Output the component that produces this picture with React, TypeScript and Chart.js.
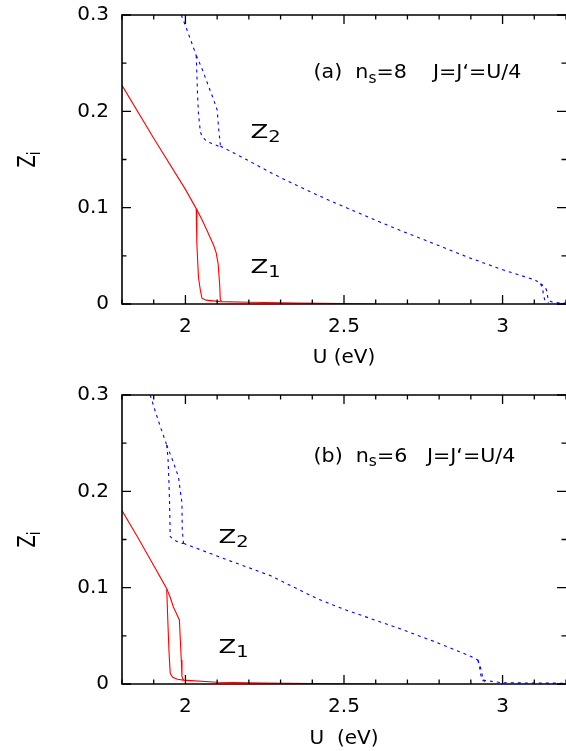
import React, { useEffect, useRef } from "react";
import { Chart, registerables } from "chart.js";

Chart.register(...registerables);

const FONT = "'DejaVu Sans', 'Liberation Sans', sans-serif";

// ---- axis ticks ----
const uTickLabels = [2, 2.5, 3];
const zTickLabels = [0, 0.1, 0.2, 0.3];

// ---- panel (a): n_s = 8 ----
const aZ1MainU = [1.8, 1.9, 2.0, 2.034];
const aZ1MainZ = [0.227, 0.172, 0.119, 0.099];
const aZ1LeftU = [2.034, 2.036, 2.041, 2.047, 2.052, 2.065, 2.11, 2.2, 2.35, 2.5, 2.6];
const aZ1LeftZ = [0.099, 0.063, 0.028, 0.0145, 0.006, 0.004, 0.0025, 0.0018, 0.001, 0.0005, 0];
const aZ1RightU = [2.034, 2.05, 2.063, 2.078, 2.089, 2.097, 2.103, 2.108, 2.11, 2.115];
const aZ1RightZ = [0.099, 0.089, 0.08, 0.069, 0.061, 0.053, 0.042, 0.02, 0.004, 0.003];

const aZ2TopU = [1.987, 2.005, 2.02, 2.034];
const aZ2TopZ = [0.3, 0.2845, 0.271, 0.258];
const aZ2LeftU = [2.034, 2.036, 2.038, 2.041, 2.047, 2.052, 2.068, 2.09, 2.11];
const aZ2LeftZ = [0.258, 0.24, 0.219, 0.198, 0.179, 0.174, 0.1685, 0.166, 0.163];
const aZ2RightU = [2.034, 2.041, 2.055, 2.073, 2.088, 2.1, 2.105, 2.108, 2.11];
const aZ2RightZ = [0.258, 0.253, 0.242, 0.226, 0.213, 0.2015, 0.181, 0.172, 0.165];
const aZ2CommonU = [2.11, 2.195, 2.268, 2.342, 2.427, 2.464, 2.511, 2.585, 2.68, 2.785, 2.891, 2.996, 3.102, 3.12];
const aZ2CommonZ = [0.164, 0.1495, 0.1365, 0.1245, 0.1115, 0.106, 0.0994, 0.089, 0.076, 0.0625, 0.0485, 0.036, 0.025, 0.021];
const aZ2DropAU = [3.12, 3.126, 3.13, 3.134, 3.145];
const aZ2DropAZ = [0.021, 0.016, 0.008, 0.003, 0.0015];
const aZ2DropBU = [3.12, 3.135, 3.139, 3.144, 3.16, 3.2];
const aZ2DropBZ = [0.021, 0.0175, 0.0138, 0.004, 0.0015, 0.001];

// ---- panel (b): n_s = 6 ----
const bZ1MainU = [1.8, 1.85, 1.9, 1.941];
const bZ1MainZ = [0.18, 0.152, 0.123, 0.099];
const bZ1LeftU = [1.941, 1.944, 1.948, 1.952, 1.96, 1.975, 1.994, 2.1, 2.25, 2.4, 2.6];
const bZ1LeftZ = [0.099, 0.07, 0.035, 0.011, 0.007, 0.005, 0.004, 0.0018, 0.001, 0.0005, 0];
const bZ1RightU = [1.941, 1.952, 1.962, 1.972, 1.981, 1.984, 1.987, 1.989, 1.994];
const bZ1RightZ = [0.099, 0.09, 0.08, 0.073, 0.0665, 0.045, 0.025, 0.0076, 0.004];

const bZ2TopU = [1.889, 1.905, 1.922, 1.941];
const bZ2TopZ = [0.3, 0.283, 0.266, 0.248];
const bZ2LeftU = [1.941, 1.945, 1.948, 1.95, 1.952, 1.962, 1.973, 1.989, 1.994];
const bZ2LeftZ = [0.248, 0.235, 0.21, 0.188, 0.153, 0.15, 0.148, 0.146, 0.146];
const bZ2RightU = [1.941, 1.96, 1.978, 1.984, 1.989, 1.99, 1.994];
const bZ2RightZ = [0.248, 0.232, 0.215, 0.2, 0.188, 0.16, 0.146];
const bZ2CommonU = [1.994, 2.11, 2.268, 2.416, 2.5, 2.68, 2.785, 2.891, 2.922];
const bZ2CommonZ = [0.146, 0.1315, 0.1125, 0.0885, 0.0775, 0.057, 0.044, 0.03, 0.025];
const bZ2DropAU = [2.922, 2.927, 2.931, 2.936, 2.95];
const bZ2DropAZ = [0.025, 0.019, 0.01, 0.004, 0.002];
const bZ2DropBU = [2.922, 2.933, 2.936, 2.938, 2.996, 3.1, 3.2];
const bZ2DropBZ = [0.025, 0.0145, 0.009, 0.004, 0.0014, 0.001, 0.0008];

// ---- texts ----
const xTitles = ["U (eV)", "U  (eV)"];
const panelTagsA: [string, boolean][] = [["(a)  n", false], ["s", true], ["=8    J=J\u2018=U/4", false]];
const panelTagsB: [string, boolean][] = [["(b)  n", false], ["s", true], ["=6   J=J\u2018=U/4", false]];
const yTitleParts: [string, boolean][] = [["Z", false], ["i", true]];
const z1Parts: [string, boolean][] = [["Z", false], ["1", true]];
const z2Parts: [string, boolean][] = [["Z", false], ["2", true]];

type Parts = [string, boolean][];

function pts(u: number[], z: number[]) {
  return u.map((x, i) => ({ x, y: z[i] }));
}

function drawRich(ctx: CanvasRenderingContext2D, parts: Parts, size: number, startX: number, baseY: number) {
  let cx = startX;
  for (const [t, sub] of parts) {
    const s = sub ? size * 0.75 : size;
    ctx.font = `${s}px ${FONT}`;
    ctx.fillText(t, cx, sub ? baseY + size * 0.22 : baseY);
    cx += ctx.measureText(t).width;
  }
}

function measureRich(ctx: CanvasRenderingContext2D, parts: Parts, size: number) {
  let w = 0;
  for (const [t, sub] of parts) {
    ctx.font = `${sub ? size * 0.75 : size}px ${FONT}`;
    w += ctx.measureText(t).width;
  }
  return w;
}

interface Label {
  parts: Parts;
  u: number;
  z: number;
  size: number;
  sx: number;
}

interface PanelDef {
  height: number;
  top: number;
  padTop: number;
  axisHeight: number;
  titlePad: number;
  title: string;
  series: { u: number[]; z: number[]; color: string; dashed: boolean }[];
  labels: Label[];
}

const panels: PanelDef[] = [
  {
    height: 376,
    top: 0,
    padTop: 15,
    axisHeight: 72,
    titlePad: 6,
    title: xTitles[0],
    series: [
      { u: aZ2TopU, z: aZ2TopZ, color: "#0000ff", dashed: true },
      { u: aZ2LeftU, z: aZ2LeftZ, color: "#0000ff", dashed: true },
      { u: aZ2RightU, z: aZ2RightZ, color: "#0000ff", dashed: true },
      { u: aZ2CommonU, z: aZ2CommonZ, color: "#0000ff", dashed: true },
      { u: aZ2DropAU, z: aZ2DropAZ, color: "#0000ff", dashed: true },
      { u: aZ2DropBU, z: aZ2DropBZ, color: "#0000ff", dashed: true },
      { u: aZ1MainU, z: aZ1MainZ, color: "#ff0000", dashed: false },
      { u: aZ1LeftU, z: aZ1LeftZ, color: "#ff0000", dashed: false },
      { u: aZ1RightU, z: aZ1RightZ, color: "#ff0000", dashed: false },
    ],
    labels: [
      { parts: panelTagsA, u: 2.404, z: 0.242, size: 20, sx: 1.03 },
      { parts: z2Parts, u: 2.205, z: 0.18, size: 20, sx: 1.3 },
      { parts: z1Parts, u: 2.205, z: 0.04, size: 20, sx: 1.3 },
    ],
  },
  {
    height: 375,
    top: 376,
    padTop: 19,
    axisHeight: 67,
    titlePad: 0,
    title: xTitles[1],
    series: [
      { u: bZ2TopU, z: bZ2TopZ, color: "#0000ff", dashed: true },
      { u: bZ2LeftU, z: bZ2LeftZ, color: "#0000ff", dashed: true },
      { u: bZ2RightU, z: bZ2RightZ, color: "#0000ff", dashed: true },
      { u: bZ2CommonU, z: bZ2CommonZ, color: "#0000ff", dashed: true },
      { u: bZ2DropAU, z: bZ2DropAZ, color: "#0000ff", dashed: true },
      { u: bZ2DropBU, z: bZ2DropBZ, color: "#0000ff", dashed: true },
      { u: bZ1MainU, z: bZ1MainZ, color: "#ff0000", dashed: false },
      { u: bZ1LeftU, z: bZ1LeftZ, color: "#ff0000", dashed: false },
      { u: bZ1RightU, z: bZ1RightZ, color: "#ff0000", dashed: false },
    ],
    labels: [
      { parts: panelTagsB, u: 2.404, z: 0.238, size: 20, sx: 1.03 },
      { parts: z2Parts, u: 2.104, z: 0.154, size: 20, sx: 1.3 },
      { parts: z1Parts, u: 2.104, z: 0.04, size: 20, sx: 1.3 },
    ],
  },
];

const near = (v: number, list: number[]) => list.some((t) => Math.abs(t - v) < 1e-6);

function makeChart(canvas: HTMLCanvasElement, p: PanelDef) {
  const overlay = {
    id: "overlay",
    afterDatasetsDraw(chart: any) {
      const ctx: CanvasRenderingContext2D = chart.ctx;
      const ca = chart.chartArea;
      const xs = chart.scales.x;
      const ys = chart.scales.y;
      ctx.save();
      ctx.strokeStyle = "#000";
      ctx.lineWidth = 1.6;
      ctx.beginPath();
      ctx.moveTo(ca.right, ca.top);
      ctx.lineTo(ca.left, ca.top);
      ctx.lineTo(ca.left, ca.bottom);
      ctx.lineTo(ca.right, ca.bottom);
      ctx.stroke();
      ctx.lineWidth = 1.3;
      ctx.beginPath();
      for (const t of xs.ticks) {
        const px = xs.getPixelForValue(t.value);
        const len = near(t.value, uTickLabels) ? 9 : 4.5;
        ctx.moveTo(px, ca.bottom);
        ctx.lineTo(px, ca.bottom - len);
        ctx.moveTo(px, ca.top);
        ctx.lineTo(px, ca.top + len);
      }
      for (const t of ys.ticks) {
        const py = ys.getPixelForValue(t.value);
        const len = near(t.value, zTickLabels) ? 9 : 4.5;
        ctx.moveTo(ca.left, py);
        ctx.lineTo(ca.left + len, py);
        ctx.moveTo(ca.right, py);
        ctx.lineTo(ca.right - len, py);
      }
      ctx.stroke();

      ctx.fillStyle = "#000";
      ctx.textBaseline = "alphabetic";
      ctx.textAlign = "left";
      for (const l of p.labels) {
        const x = xs.getPixelForValue(l.u);
        const yc = ys.getPixelForValue(l.z);
        ctx.save();
        ctx.translate(x, yc);
        ctx.scale(l.sx, 1);
        drawRich(ctx, l.parts, l.size, 0, (l.size * 0.729) / 2);
        ctx.restore();
      }
      // y-axis title Z_i (rotated)
      const ySize = 18;
      ctx.save();
      ctx.translate(26, (ca.top + ca.bottom) / 2);
      ctx.rotate(-Math.PI / 2);
      ctx.scale(1, 1.35);
      const w = measureRich(ctx, yTitleParts, ySize);
      drawRich(ctx, yTitleParts, ySize, -w / 2, (ySize * 0.729) / 2);
      ctx.restore();
      ctx.restore();
    },
  };

  return new Chart(canvas, {
    type: "line",
    data: {
      datasets: p.series.map((s) => ({
        data: pts(s.u, s.z),
        borderColor: s.color,
        borderWidth: 1.1,
        borderDash: s.dashed ? [3, 4] : [],
        pointRadius: 0,
        pointBorderWidth: 0,
        fill: false,
        tension: 0,
      })),
    },
    options: {
      animation: false,
      responsive: false,
      maintainAspectRatio: false,
      layout: { autoPadding: false, padding: { top: p.padTop, left: 0, right: 0, bottom: 0 } },
      plugins: { legend: { display: false }, tooltip: { enabled: false } },
      scales: {
        x: {
          type: "linear",
          min: 1.8,
          max: 3.2,
          grid: { display: false, drawTicks: false },
          border: { display: false },
          ticks: {
            stepSize: 0.1,
            autoSkip: false,
            maxRotation: 0,
            padding: 11,
            color: "#000",
            font: { family: FONT, size: 20 },
            callback: (v: any) => (near(Number(v), uTickLabels) ? String(Math.round(Number(v) * 10) / 10) : ""),
          },
          title: {
            display: true,
            text: p.title,
            color: "#000",
            font: { family: FONT, size: 20 },
            padding: { top: 0, bottom: p.titlePad },
          },
          afterFit: (s: any) => {
            s.height = p.axisHeight;
            s.paddingLeft = 0;
            s.paddingRight = 0;
          },
        },
        y: {
          type: "linear",
          min: 0,
          max: 0.3,
          grid: { display: false, drawTicks: false },
          border: { display: false },
          ticks: {
            stepSize: 0.05,
            autoSkip: false,
            padding: 13,
            color: "#000",
            font: { family: FONT, size: 20 },
            callback: (v: any) => (near(Number(v), zTickLabels) ? String(Math.round(Number(v) * 10) / 10) : ""),
          },
          afterFit: (s: any) => {
            s.width = 122;
            s.paddingTop = 0;
            s.paddingBottom = 0;
          },
        },
      },
    } as any,
    plugins: [overlay],
  });
}

function Panel({ def }: { def: PanelDef }) {
  const ref = useRef<HTMLCanvasElement>(null);
  useEffect(() => {
    if (!ref.current) return;
    const c = makeChart(ref.current, def);
    return () => c.destroy();
  }, [def]);
  return (
    <canvas
      ref={ref}
      width={566}
      height={def.height}
      style={{ position: "absolute", left: 0, top: def.top, width: 566, height: def.height }}
    />
  );
}

export default function App() {
  return (
    <div style={{ position: "absolute", left: 0, top: 0, width: 566, height: 751, background: "#fff" }}>
      {panels.map((p, i) => (
        <Panel key={i} def={p} />
      ))}
    </div>
  );
}
